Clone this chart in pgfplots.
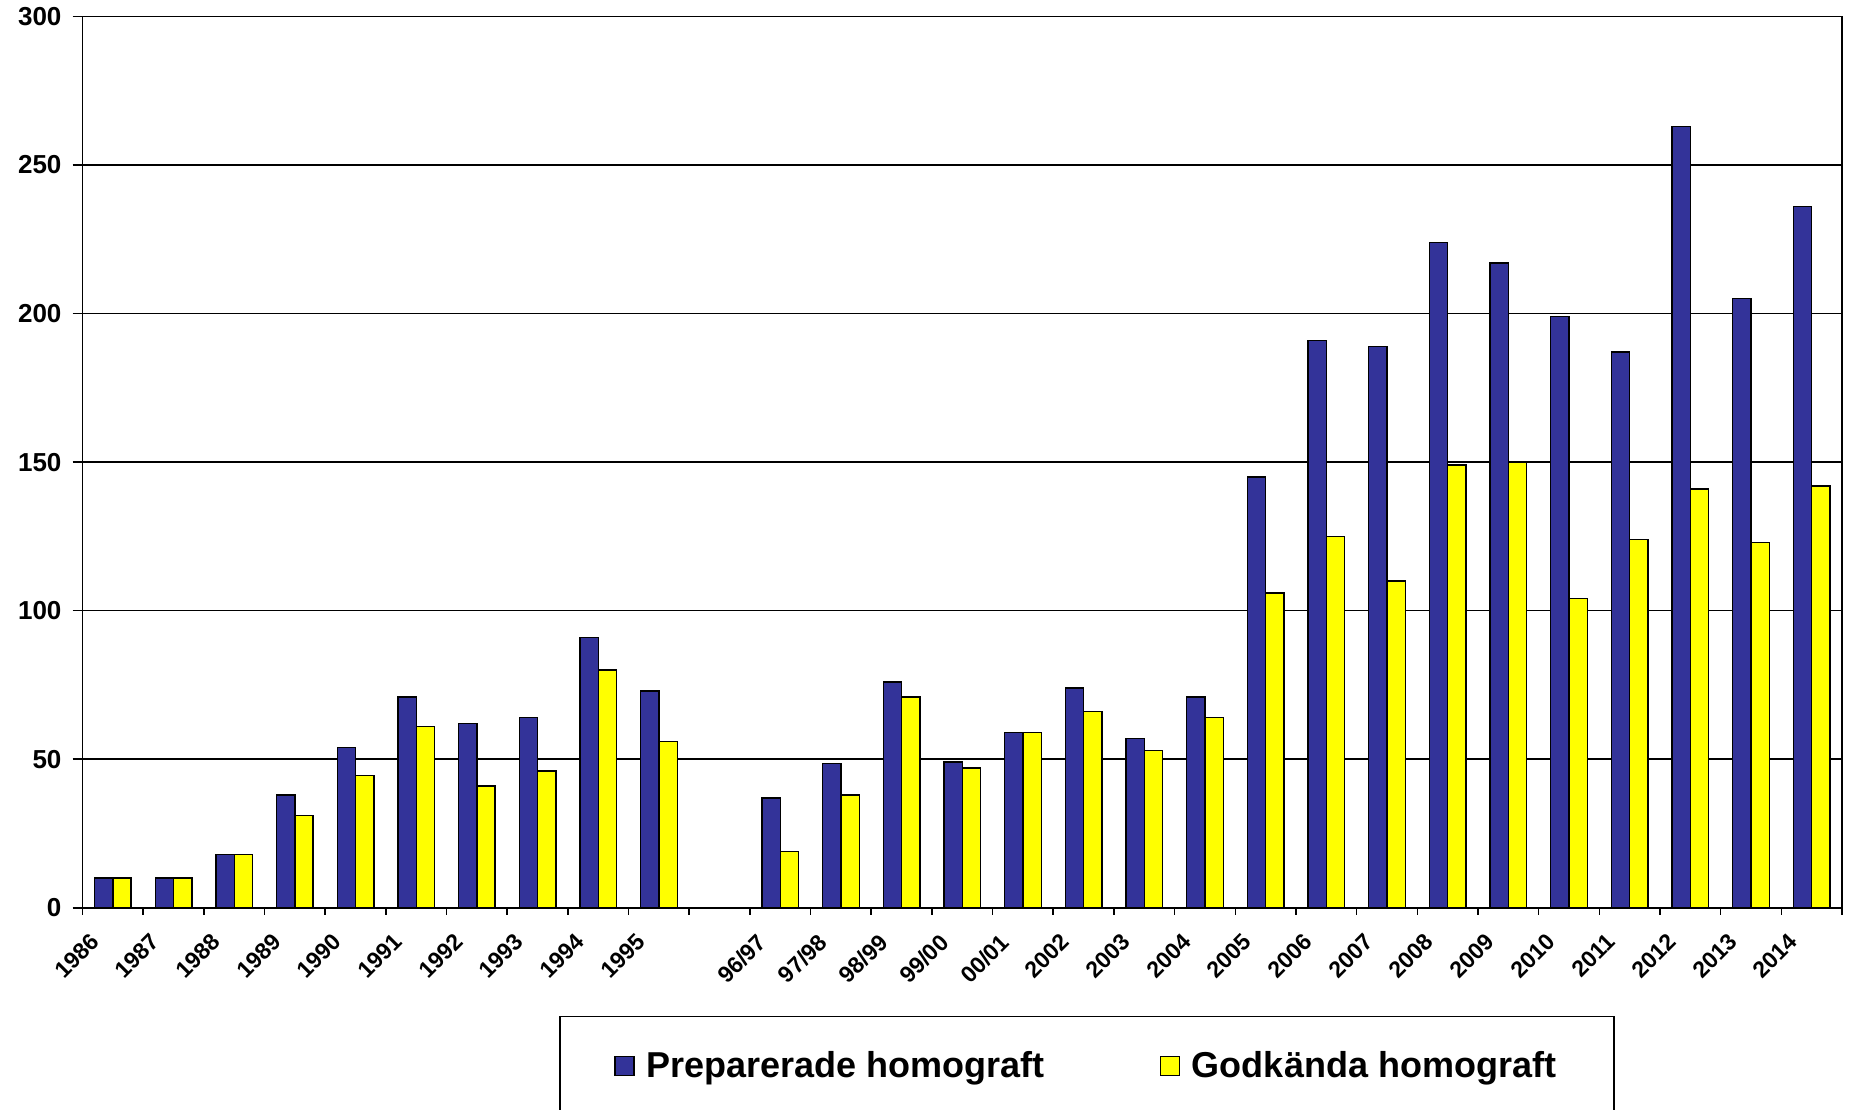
\documentclass[border=0pt]{standalone}
\usepackage{fontspec}
\setmainfont{Liberation Sans}
\usepackage{pgfplots}
\pgfplotsset{compat=1.18}
\usetikzlibrary{calc}
\definecolor{bblue}{HTML}{333399}
\definecolor{byellow}{HTML}{FFFF00}
\begin{document}
\begin{tikzpicture}
\begin{axis}[
  scale only axis, width=879.5pt, height=445.5pt,
  xmin=-0.5, xmax=28.5, ymin=0, ymax=300,
  ybar=0pt, bar width=9.15pt,
  xtick={0,...,28},
  xticklabels={1986,1987,1988,1989,1990,1991,1992,1993,1994,1995,{},96/97,97/98,98/99,99/00,00/01,2002,2003,2004,2005,2006,2007,2008,2009,2010,2011,2012,2013,2014},
  minor xtick={-0.5,0.5,...,28.5},
  ytick={0,50,...,300},
  tick align=outside, xtick pos=left, ytick pos=left,
  major tick length=5pt, minor tick length=3.5pt,
  major x tick style={draw=none},
  tick style={black, line width=0.8pt},
  axis line style={line width=0.9pt},
  ymajorgrids, grid style={black, line width=0.75pt},
  /pgf/number format/assume math mode=true,
  yticklabel style={font=\bfseries\fontsize{13}{15}\selectfont, xshift=-2pt},
  xticklabel style={font=\bfseries\fontsize{11.5}{13}\selectfont, inner sep=0pt, anchor=north east, xshift=-12pt, yshift=-7pt, rotate=45},
  legend columns=2,
  legend style={at={(0.571,-0.121)}, anchor=north, draw=black, line width=0.8pt,
    font=\bfseries\fontsize{18}{21}\selectfont, inner xsep=27pt, inner ysep=15.5pt,
    /tikz/every odd column/.append style={column sep=4pt},
    /tikz/every even column/.append style={column sep=55.5pt}},
  legend image code/.code={\draw[#1, line width=0.6pt] (0pt,-4.75pt) rectangle (9.5pt,4.75pt);},
]
\addplot[fill=bblue, draw=black, line width=0.7pt] coordinates {(0,10)(1,10)(2,18)(3,38)(4,54)(5,71)(6,62)(7,64)(8,91)(9,73)(11,37)(12,48.5)(13,76)(14,49)(15,59)(16,74)(17,57)(18,71)(19,145)(20,191)(21,189)(22,224)(23,217)(24,199)(25,187)(26,263)(27,205)(28,236)};
\addlegendentry{Preparerade homograft}
\addplot[fill=byellow, draw=black, line width=0.7pt] coordinates {(0,10)(1,10)(2,18)(3,31)(4,44.5)(5,61)(6,41)(7,46)(8,80)(9,56)(11,19)(12,38)(13,71)(14,47)(15,59)(16,66)(17,53)(18,64)(19,106)(20,125)(21,110)(22,149)(23,150)(24,104)(25,124)(26,141)(27,123)(28,142)};
\addlegendentry{Godkända homograft}
\coordinate (SW) at (rel axis cs:0,0);
\coordinate (NE) at (rel axis cs:1,1);
\end{axis}
\pgfresetboundingbox
\useasboundingbox ($(SW)+(-41.25pt,-101pt)$) rectangle ($(NE)+(3.5pt,8.25pt)$);
\end{tikzpicture}
\end{document}
